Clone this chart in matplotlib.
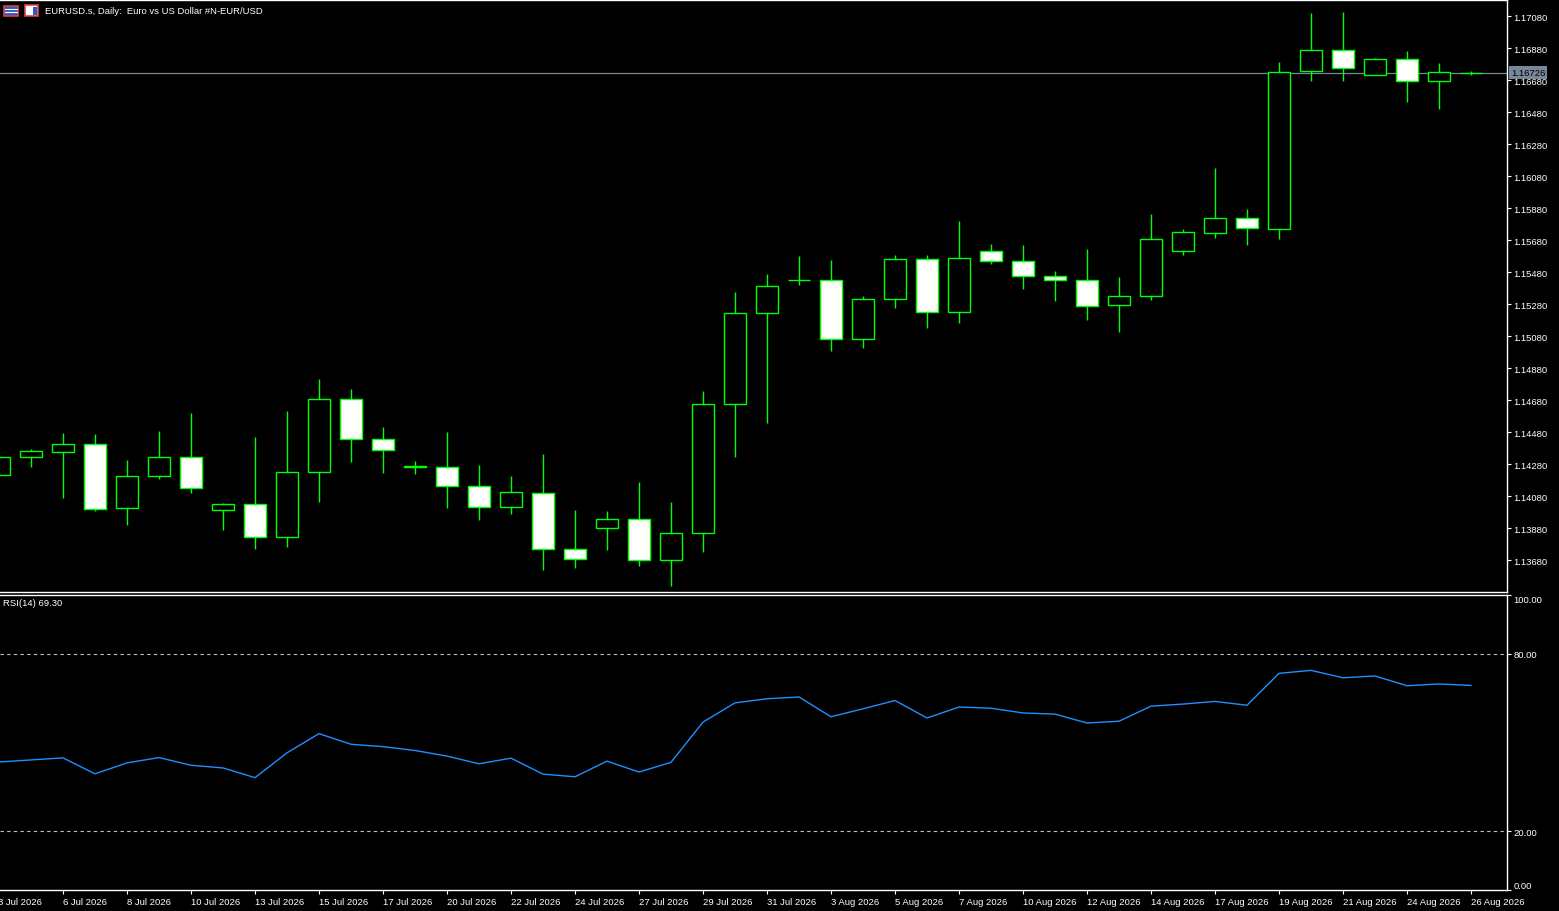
import matplotlib
matplotlib.use("Agg")
import matplotlib.pyplot as plt
import matplotlib.transforms as mtransforms
from matplotlib.patches import Rectangle
import numpy as np

# Daily bars, EURUSD.s
dates = ["3 Jul 2026", "", "6 Jul 2026", "", "8 Jul 2026", "", "10 Jul 2026", "",
         "13 Jul 2026", "", "15 Jul 2026", "", "17 Jul 2026", "", "20 Jul 2026", "",
         "22 Jul 2026", "", "24 Jul 2026", "", "27 Jul 2026", "", "29 Jul 2026", "",
         "31 Jul 2026", "", "3 Aug 2026", "", "5 Aug 2026", "", "7 Aug 2026", "",
         "10 Aug 2026", "", "12 Aug 2026", "", "14 Aug 2026", "", "17 Aug 2026", "",
         "19 Aug 2026", "", "21 Aug 2026", "", "24 Aug 2026", "", "26 Aug 2026"]

opens = [1.14213, 1.14326, 1.14357, 1.14403, 1.14007, 1.14207, 1.14322, 1.13991,
         1.14028, 1.13822, 1.14228, 1.14684, 1.14434, 1.14263, 1.14259, 1.14141,
         1.14009, 1.14097, 1.13747, 1.13878, 1.13934, 1.13678, 1.13847, 1.14653,
         1.15222, 1.15430, 1.15428, 1.15059, 1.15309, 1.15559, 1.15228, 1.15609,
         1.15547, 1.15453, 1.15428, 1.15272, 1.15328, 1.15609, 1.15722, 1.15816,
         1.15747, 1.16734, 1.16866, 1.16709, 1.16809, 1.16672, 1.16724]
highs = [1.14336, 1.14374, 1.14474, 1.14468, 1.14305, 1.14486, 1.14599, 1.14036,
         1.14449, 1.14611, 1.14811, 1.14749, 1.14511, 1.14299, 1.14480, 1.14274,
         1.14205, 1.14343, 1.13993, 1.13986, 1.14168, 1.14043, 1.14736, 1.15355,
         1.15468, 1.15580, 1.15555, 1.15328, 1.15586, 1.15586, 1.15799, 1.15655,
         1.15649, 1.15486, 1.15624, 1.15449, 1.15843, 1.15749, 1.16130, 1.15874,
         1.16793, 1.17099, 1.17105, 1.16818, 1.16861, 1.16786, 1.16736]
lows = [1.14205, 1.14263, 1.14068, 1.13988, 1.13901, 1.14188, 1.14101, 1.13869,
        1.13751, 1.13763, 1.14044, 1.14294, 1.14226, 1.14219, 1.14007, 1.13932,
        1.13969, 1.13619, 1.13632, 1.13743, 1.13644, 1.13519, 1.13732, 1.14326,
        1.14538, 1.15399, 1.14986, 1.15007, 1.15255, 1.15132, 1.15163, 1.15532,
        1.15376, 1.15301, 1.15182, 1.15107, 1.15307, 1.15588, 1.15694, 1.15651,
        1.15688, 1.16676, 1.16676, 1.16709, 1.16544, 1.16501, 1.16713]
closes = [1.14322, 1.14359, 1.14403, 1.14001, 1.14203, 1.14322, 1.14128, 1.14028,
          1.13822, 1.14228, 1.14684, 1.14434, 1.14366, 1.14265, 1.14141, 1.14009,
          1.14103, 1.13747, 1.13684, 1.13934, 1.13678, 1.13847, 1.14653, 1.15222,
          1.15391, 1.15433, 1.15059, 1.15309, 1.15559, 1.15228, 1.15566, 1.15547,
          1.15453, 1.15428, 1.15266, 1.15328, 1.15684, 1.15728, 1.15816, 1.15753,
          1.16728, 1.16866, 1.16753, 1.16809, 1.16672, 1.16728, 1.16726]

rsi = [43.4, 44.1, 44.8, 39.4, 43.1, 44.9, 42.3, 41.4, 38.1, 46.5, 53.0, 49.4,
       48.6, 47.3, 45.4, 42.8, 44.7, 39.3, 38.4, 43.7, 40.0, 43.3, 56.9, 63.4,
       64.8, 65.4, 58.7, 61.4, 64.2, 58.3, 62.0, 61.6, 60.0, 59.6, 56.6, 57.2,
       62.3, 63.0, 63.9, 62.6, 73.4, 74.4, 71.9, 72.5, 69.2, 69.8, 69.3]

price_ticks = np.arange(1.13680, 1.17081, 0.002)
rsi_ticks = [0, 20, 80, 100]
rsi_levels = [20, 80]

GREEN = "#00ff00"
W, H = 1559, 912

plt.rcParams['font.family'] = ['Liberation Sans', 'DejaVu Sans']
plt.rcParams['font.size'] = 6.8

fig = plt.figure(figsize=(W / 100, H / 100), dpi=100, facecolor="black")


def box(l, t, r, b):
    return [l / W, 1 - b / H, (r - l) / W, (b - t) / H]


ax = fig.add_axes(box(0, 0.7, 1507, 593))
ax_rsi = fig.add_axes(box(0, 595.7, 1507, 891.3))

x = np.arange(len(opens))
o, hi, lo, c = (np.array(v) for v in (opens, highs, lows, closes))
up = c >= o
xmin, xmax = 1 / 32, 1508 / 32

for a in (ax, ax_rsi):
    a.set_facecolor("black")
    a.set_xlim(xmin, xmax)
    for side in ("top", "right", "bottom"):
        a.spines[side].set_color("white")
        a.spines[side].set_linewidth(1.0)
    a.spines["left"].set_visible(False)
    a.yaxis.tick_right()
    a.tick_params(axis="y", colors="white", length=3, width=0.8, pad=1.5,
                  labelsize=6.8)

# candles
ax.axhline(closes[-1], color="#778899", lw=0.9, zorder=1)
ax.vlines(x, lo, hi, color=GREEN, lw=1.0, zorder=2)
ax.bar(x, np.maximum(np.abs(c - o), 0.00001), bottom=np.minimum(o, c), width=0.66,
       color=np.where(up, "black", "white"), edgecolor=GREEN, linewidth=1.0, zorder=3)
ax.set_ylim(1.13480, 1.17182)
ax.set_yticks(price_ticks)
ax.set_yticklabels([f"{v:.5f}" for v in price_ticks])
ax.set_xticks([])

trans = mtransforms.blended_transform_factory(ax.transAxes, ax.transData)
ax.text(1 + 4 / 1507, closes[-1], f"{closes[-1]:.5f}", transform=trans, ha="left",
        va="center", color="black", fontsize=6.8, clip_on=False, zorder=10,
        bbox=dict(facecolor="#778899", edgecolor="none", pad=1.2))

# RSI
ax_rsi.plot(x, rsi, color="#1e90ff", lw=1.0)
for lvl in rsi_levels:
    ax_rsi.axhline(lvl, color="#c0c0c0", lw=0.8, ls=(0, (3, 3)))
ax_rsi.set_ylim(0, 100)
ax_rsi.set_yticks(rsi_ticks)
ax_rsi.set_yticklabels([f"{v:.2f}" for v in rsi_ticks])
for lab in ax_rsi.get_yticklabels():
    if lab.get_text() == "100.00":
        lab.set_verticalalignment("top")
    elif lab.get_text() == "0.00":
        lab.set_verticalalignment("bottom")
ax_rsi.set_xticks(x[2::2])
ax_rsi.set_xticklabels(dates[2::2])
ax_rsi.tick_params(axis="x", colors="white", length=3, width=0.8, pad=1.5,
                   labelsize=6.8)
for lab in ax_rsi.get_xticklabels():
    lab.set_horizontalalignment("left")
# first bar sits just left of the visible area, its label is cut at the edge
fig.text(-2 / W, 1 - 903 / H, dates[0], color="white", fontsize=6.8,
         ha="left", va="center")

fig.text(3 / W, 1 - 604 / H, f"RSI(14) {rsi[-1]:.2f}", color="white", fontsize=6.8,
         ha="left", va="center")

# header
fig.text(45 / W, 1 - 11 / H, "EURUSD.s, Daily:  Euro vs US Dollar #N-EUR/USD",
         color="white", fontsize=6.8, ha="left", va="center")
fig.add_artist(Rectangle((4 / W, 1 - 17 / H), 14 / W, 10 / H, transform=fig.transFigure,
                         facecolor="#2a5cc8", edgecolor="#e04040", lw=1.2))
for yy in (10, 13):
    fig.add_artist(plt.Line2D([5 / W, 17 / W], [1 - yy / H, 1 - yy / H],
                              transform=fig.transFigure, color="white", lw=0.8))
fig.add_artist(Rectangle((25 / W, 1 - 17 / H), 13 / W, 11 / H, transform=fig.transFigure,
                         facecolor="white", edgecolor="#e04040", lw=1.2))
fig.add_artist(Rectangle((33 / W, 1 - 16 / H), 4 / W, 8 / H, transform=fig.transFigure,
                         facecolor="#2a5cc8", edgecolor="none"))

fig.savefig("out.png", dpi=100, facecolor="black")
